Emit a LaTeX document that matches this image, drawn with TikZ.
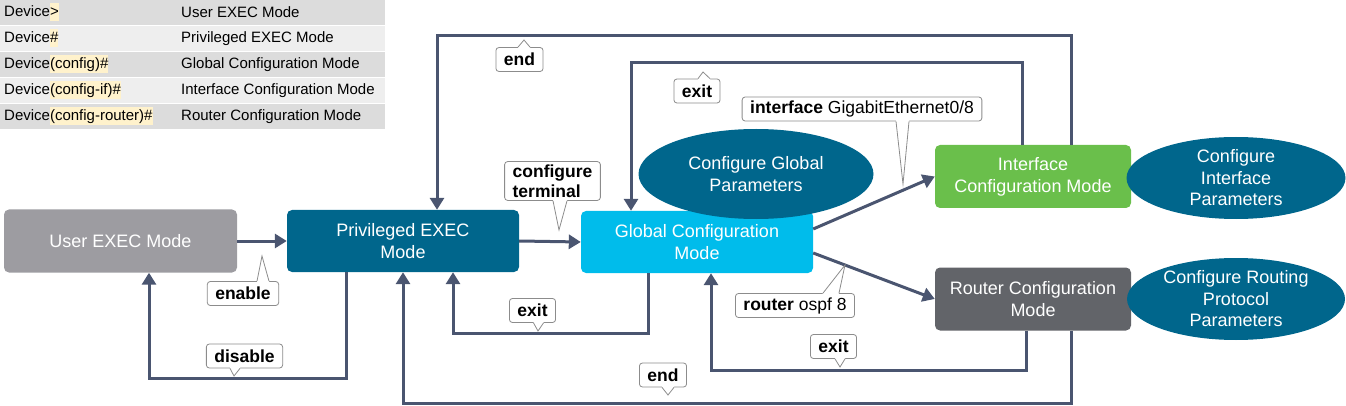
\documentclass[tikz,border=0pt]{standalone}
\usepackage{fontspec}
\setmainfont{Liberation Sans}
\usetikzlibrary{arrows.meta,calc,shapes.geometric}

\definecolor{linkcol}{RGB}{74,85,112}
\definecolor{usergray}{RGB}{157,156,161}
\definecolor{privblue}{RGB}{0,102,140}
\definecolor{globcyan}{RGB}{0,188,235}
\definecolor{intfgreen}{RGB}{106,191,75}
\definecolor{routgray}{RGB}{98,100,105}
\definecolor{rowdark}{RGB}{220,220,220}
\definecolor{rowlight}{RGB}{238,238,238}
\definecolor{hlyellow}{RGB}{255,242,204}
\definecolor{tagedge}{RGB}{140,140,140}

% yellow mark behind the prompt part
\newcommand{\hlt}[1]{{\setlength{\fboxsep}{0pt}\colorbox{hlyellow}{\strut#1}}}
% pointer of a tag: anchor, xshift, half width, tip
\newcommand{\tagtip}[4]{%
  \coordinate (tb) at ([xshift=#2]#1);
  \coordinate (ti) at ($(tb)!-2pt!(#4)$);
  \fill[white] ($(ti)+(-#3,0)$) -- ($(tb)+(-#3,0)$) -- (#4) -- ($(tb)+(#3,0)$) -- ($(ti)+(#3,0)$) -- cycle;
  \draw[tagline] ($(tb)+(-#3,0)$) -- (#4) -- ($(tb)+(#3,0)$);
}

\begin{document}
\begin{tikzpicture}[x=1pt, y=-1pt,
          mode/.style = {rounded corners=5pt, text=white, align=center, minimum height=63pt,
                         font=\fontsize{18}{22}\selectfont},
          param/.style = {ellipse, fill=privblue, text=white, align=center, inner sep=0pt,
                          font=\fontsize{18}{21.5}\selectfont, lower},
          lower/.style = {execute at begin node={\rule{0pt}{18pt}}},
          tag/.style = {draw=tagedge, line width=0.8pt, fill=white, rounded corners=3pt, align=left,
                        inner xsep=8pt, inner ysep=3pt, minimum height=24pt,
                        font=\fontsize{17.5}{20}\selectfont},
          tagline/.style = {draw=tagedge, line width=0.8pt},
          cell/.style = {anchor=west, inner sep=0pt, font=\fontsize{15}{18}\selectfont},
          arrow/.style = {draw=linkcol, line width=3pt, -{Triangle[length=12pt,width=14pt]}}]
        \useasboundingbox (0,0) rectangle (1346,406);

        % prompt table
        \foreach \i/\c/\p/\m in {0/rowdark/Device\hlt{>}/User EXEC Mode,
                                 1/rowlight/Device\hlt{\#}/Privileged EXEC Mode,
                                 2/rowdark/Device\hlt{(config)\#}/Global Configuration Mode,
                                 3/rowlight/Device\hlt{(config-if)\#}/Interface Configuration Mode,
                                 4/rowdark/Device\hlt{(config-router)\#}/Router Configuration Mode}
                 {
                   \fill[\c] (0,26*\i) rectangle (385,26*\i+25);
                   \node[cell] (p\i) at (4,26*\i+12.5) {\p};
                   \node[cell] (m\i) at (181,26*\i+12.5) {\m};
                 }

        % modes
        \node[mode, fill=usergray, minimum width=233pt] (user) at (120.5,241) {User EXEC Mode};
        \node[mode, lower, fill=privblue, minimum width=232pt, minimum height=62pt] (priv) at (403,241) {Privileged EXEC\\Mode};
        \node[mode, lower, fill=globcyan, minimum width=232pt, minimum height=62pt] (glob) at (697,242) {Global Configuration\\Mode};
        \node[mode, lower, fill=intfgreen, minimum width=196pt] (intf) at (1033,176.5) {Interface\\Configuration Mode};
        \node[mode, lower, fill=routgray, minimum width=196pt] (rout) at (1033,299) {Router Configuration\\Mode};

        % forward
        \draw[arrow] (user.east) -- (priv.west);
        \draw[arrow] (priv.east) -- (glob.west);
        \draw[arrow] ([yshift=13]glob.east) -- (intf.west);
        \draw[arrow] ([yshift=-11]glob.east) -- (rout.west);

        % back
        \coordinate (dis) at (250,378);
        \coordinate (exA) at (550,333);
        \coordinate (exB) at (850,370);
        \coordinate (enB) at (700,403);
        \coordinate (enT) at (700,36);
        \coordinate (exT) at (800,63);
        \draw[arrow] ([xshift=-57]priv.south) |- (dis) -| ([xshift=28.5]user.south);
        \draw[arrow] ([xshift=-49]glob.south) |- (exA) -| ([xshift=50]priv.south);
        \draw[arrow] ([xshift=-7]rout.south) |- (exB) -| ([xshift=14]glob.south);
        \draw[arrow] ([xshift=38]rout.south) |- (enB) -| (priv.south);
        \draw[arrow] ([xshift=38]intf.north) |- (enT) -| ([xshift=34]priv.north);
        \draw[arrow] ([xshift=-11]intf.north) |- (exT) -| ([xshift=-66]glob.north);

        % parameters
        \node[param, minimum width=235pt, minimum height=90pt] (gpar) at (756,174) {Configure Global\\Parameters};
        \node[param, minimum width=219pt, minimum height=82pt] (ipar) at (1236,178) {Configure\\Interface\\Parameters};
        \node[param, minimum width=218pt, minimum height=82pt] (rpar) at (1236,299) {Configure Routing\\Protocol\\Parameters};

        % commands
        \node[tag] (tEnable) at (243,293.5) {\textbf{enable}};
        \tagtip{tEnable.north}{20}{6}{262,256}
        \node[tag] (tDisable) at (244.5,356) {\textbf{disable}};
        \tagtip{tDisable.south}{-9.5}{5}{234,376}
        \node[tag] (tConf) at (552.5,181) {\textbf{configure}\\\textbf{terminal}};
        \tagtip{tConf.south}{7.5}{7}{559,230}
        \node[tag] (tExitA) at (532.5,310.5) {\textbf{exit}};
        \tagtip{tExitA.south}{6}{5}{538,331}
        \node[tag] (tEndT) at (519.5,59.5) {\textbf{end}};
        \tagtip{tEndT.north}{4.5}{6}{524,40}
        \node[tag] (tExitT) at (697,91) {\textbf{exit}};
        \tagtip{tExitT.north}{7}{6}{703,72}
        \node[tag] (tIntf) at (862,109) {\textbf{interface} GigabitEthernet0/8};
        \tagtip{tIntf.south}{40.5}{6.5}{903,184}
        \node[tag] (tOspf) at (795,305.5) {\textbf{router} ospf 8};
        \tagtip{tOspf.north}{36}{8}{845,265}
        \node[tag] (tExitB) at (833.5,346.5) {\textbf{exit}};
        \tagtip{tExitB.south}{6.5}{5}{840,367}
        \node[tag] (tEndB) at (663,375) {\textbf{end}};
        \tagtip{tEndB.south}{5}{6}{668,395}
\end{tikzpicture}
\end{document}
